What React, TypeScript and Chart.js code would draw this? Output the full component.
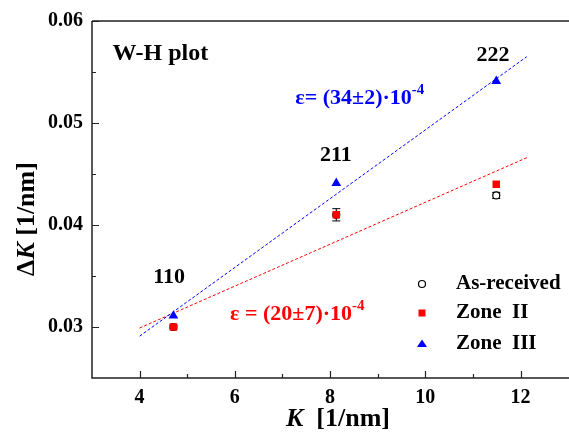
import { useEffect, useRef } from "react";
import { Chart, registerables } from "chart.js";

Chart.register(...registerables);

// ---- data ----
const K_VALUES = [4.71, 8.13, 11.49];
const AS_RECEIVED = [0.03, 0.041, 0.0429];
const AS_RECEIVED_ERR = [0.0002, 0.0006, 0.0003];
const ZONE_II = [0.03, 0.041, 0.044];
const ZONE_III = [0.0311, 0.0441, 0.0541];
const REFLECTIONS = ["110", "211", "222"];
const REFLECTION_K = [4.62, 8.12, 11.42];
const REFLECTION_DK = [0.0349, 0.0468, 0.0566];
const FIT_K = [4, 12.13];
const FIT_ZONE_III = [0.0291, 0.0565];
const FIT_ZONE_II = [0.0299, 0.0466];
const X_TICKS = [4, 6, 8, 10, 12];
const X_MINOR = [5, 7, 9, 11];
const Y_TICKS = [0.03, 0.04, 0.05, 0.06];
const Y_MINOR = [0.035, 0.045, 0.055];
const LEGEND_LABELS = ["As-received", "Zone  II", "Zone  III"];

const SERIF = "'Liberation Serif', 'Times New Roman', serif";
const BLUE = "#0000ff";
const RED = "#ff0000";

function drawRich(
  ctx: CanvasRenderingContext2D,
  parts: { t: string; font: string; dy?: number }[],
  x: number,
  y: number,
  color: string
) {
  let cx = x;
  ctx.fillStyle = color;
  ctx.textAlign = "left";
  ctx.textBaseline = "alphabetic";
  for (const p of parts) {
    ctx.font = p.font;
    ctx.fillText(p.t, cx, y + (p.dy || 0));
    cx += ctx.measureText(p.t).width;
  }
}

const decorPlugin = {
  id: "decor",
  beforeDatasetsDraw(chart: any) {
    const { ctx, scales } = chart;
    const xs = scales.x;
    const ys = scales.y;
    ctx.save();
    ctx.strokeStyle = "#000";
    ctx.lineWidth = 1;
    K_VALUES.forEach((k, i) => {
      const px = xs.getPixelForValue(k);
      const top = ys.getPixelForValue(AS_RECEIVED[i] + AS_RECEIVED_ERR[i]);
      const bot = ys.getPixelForValue(AS_RECEIVED[i] - AS_RECEIVED_ERR[i]);
      ctx.beginPath();
      ctx.moveTo(px, top);
      ctx.lineTo(px, bot);
      ctx.moveTo(px - 4, top);
      ctx.lineTo(px + 4, top);
      ctx.moveTo(px - 4, bot);
      ctx.lineTo(px + 4, bot);
      ctx.stroke();
    });
    ctx.restore();
  },
  afterDraw(chart: any) {
    const { ctx, chartArea, scales } = chart;
    const xs = scales.x;
    const ys = scales.y;
    const { left, top, bottom } = chartArea;
    ctx.save();
    // axes
    ctx.strokeStyle = "#222";
    ctx.lineWidth = 1.5;
    ctx.beginPath();
    ctx.moveTo(left, top);
    ctx.lineTo(chart.width, top);
    ctx.moveTo(left, top);
    ctx.lineTo(left, bottom);
    ctx.lineTo(chart.width, bottom);
    ctx.stroke();
    ctx.lineWidth = 1.2;
    ctx.beginPath();
    X_TICKS.forEach((v) => {
      const p = Math.round(xs.getPixelForValue(v)) + 0.5;
      ctx.moveTo(p, bottom);
      ctx.lineTo(p, bottom - 7);
    });
    X_MINOR.forEach((v) => {
      const p = Math.round(xs.getPixelForValue(v)) + 0.5;
      ctx.moveTo(p, bottom);
      ctx.lineTo(p, bottom - 4);
    });
    Y_TICKS.forEach((v) => {
      const p = Math.round(ys.getPixelForValue(v)) + 0.5;
      ctx.moveTo(left, p);
      ctx.lineTo(left + 7, p);
    });
    Y_MINOR.forEach((v) => {
      const p = Math.round(ys.getPixelForValue(v)) + 0.5;
      ctx.moveTo(left, p);
      ctx.lineTo(left + 4, p);
    });
    ctx.stroke();

    // axis titles
    const bold26 = `bold 26px ${SERIF}`;
    const boldIt26 = `italic bold 26px ${SERIF}`;
    ctx.font = boldIt26;
    const kW = ctx.measureText("K").width;
    ctx.font = bold26;
    const restW = ctx.measureText("  [1/nm]").width;
    const xTitleW = kW + restW;
    const xCenter = 338;
    drawRich(
      ctx,
      [
        { t: "K", font: boldIt26 },
        { t: "  [1/nm]", font: bold26 },
      ],
      xCenter - xTitleW / 2,
      426,
      "#000"
    );
    ctx.save();
    ctx.translate(34, 219);
    ctx.rotate(-Math.PI / 2);
    ctx.font = bold26;
    const dW = ctx.measureText("Δ").width;
    const rW = ctx.measureText(" [1/nm]").width;
    const yTitleW = dW + kW + rW;
    drawRich(
      ctx,
      [
        { t: "Δ", font: bold26 },
        { t: "K", font: boldIt26 },
        { t: " [1/nm]", font: bold26 },
      ],
      -yTitleW / 2,
      0,
      "#000"
    );
    ctx.restore();

    // plot label
    ctx.fillStyle = "#000";
    ctx.font = `bold 24px ${SERIF}`;
    ctx.textAlign = "left";
    ctx.textBaseline = "alphabetic";
    ctx.fillText("W-H plot", xs.getPixelForValue(3.43), ys.getPixelForValue(0.0562));

    // reflection labels
    ctx.font = `bold 22px ${SERIF}`;
    ctx.textAlign = "center";
    ctx.textBaseline = "middle";
    REFLECTIONS.forEach((r, i) => {
      ctx.fillText(r, xs.getPixelForValue(REFLECTION_K[i]), ys.getPixelForValue(REFLECTION_DK[i]));
    });

    // strain labels
    const b22 = `bold 22px ${SERIF}`;
    const b15 = `bold 15px ${SERIF}`;
    drawRich(
      ctx,
      [
        { t: "ε= (34±2)·10", font: b22 },
        { t: "-4", font: b15, dy: -10 },
      ],
      xs.getPixelForValue(7.27),
      ys.getPixelForValue(0.0519),
      BLUE
    );
    drawRich(
      ctx,
      [
        { t: "ε = (20±7)·10", font: b22 },
        { t: "-4", font: b15, dy: -10 },
      ],
      xs.getPixelForValue(5.9),
      ys.getPixelForValue(0.0307),
      RED
    );

    // legend
    const lx = left + 330;
    const rows = [284, 313, 344];
    ctx.font = `bold 21px ${SERIF}`;
    ctx.textAlign = "left";
    ctx.textBaseline = "middle";
    rows.forEach((ry, i) => {
      ctx.fillStyle = "#000";
      ctx.fillText(LEGEND_LABELS[i], lx + 34, ry);
      if (i === 0) {
        ctx.beginPath();
        ctx.arc(lx, ry, 3.5, 0, Math.PI * 2);
        ctx.fillStyle = "#fff";
        ctx.fill();
        ctx.strokeStyle = "#000";
        ctx.lineWidth = 1.2;
        ctx.stroke();
      } else if (i === 1) {
        ctx.fillStyle = RED;
        ctx.fillRect(lx - 3.5, ry - 3.5, 7, 7);
      } else {
        ctx.fillStyle = BLUE;
        ctx.beginPath();
        ctx.moveTo(lx, ry - 4.5);
        ctx.lineTo(lx + 5, ry + 3);
        ctx.lineTo(lx - 5, ry + 3);
        ctx.closePath();
        ctx.fill();
      }
    });
    ctx.restore();
  },
};

export default function App() {
  const ref = useRef<HTMLCanvasElement | null>(null);
  useEffect(() => {
    document.body.style.margin = "0";
    const canvas = ref.current;
    if (!canvas) return;
    const pts = (ys: number[]) => K_VALUES.map((k, i) => ({ x: k, y: ys[i] }));
    const fit = (ys: number[]) => FIT_K.map((k, i) => ({ x: k, y: ys[i] }));
    const chart = new Chart(canvas, {
      type: "scatter",
      data: {
        datasets: [
          {
            label: "Zone III fit",
            data: fit(FIT_ZONE_III),
            showLine: true,
            borderColor: BLUE,
            borderWidth: 1,
            borderDash: [3, 2],
            pointRadius: 0,
            order: 10,
          },
          {
            label: "Zone II fit",
            data: fit(FIT_ZONE_II),
            showLine: true,
            borderColor: RED,
            borderWidth: 1,
            borderDash: [3, 2],
            pointRadius: 0,
            order: 11,
          },
          {
            label: "As-received",
            data: pts(AS_RECEIVED),
            pointStyle: "circle",
            pointRadius: 3.5,
            backgroundColor: "#fff",
            borderColor: "#000",
            borderWidth: 1.2,
            order: 3,
          },
          {
            label: "Zone II",
            data: pts(ZONE_II),
            pointStyle: "rect",
            pointRadius: 5.3,
            backgroundColor: RED,
            borderColor: RED,
            borderWidth: 0,
            order: 2,
          },
          {
            label: "Zone III",
            data: pts(ZONE_III),
            pointStyle: "triangle",
            pointRadius: 5.6,
            backgroundColor: BLUE,
            borderColor: BLUE,
            borderWidth: 0,
            order: 1,
          },
        ],
      },
      options: {
        responsive: false,
        animation: false,
        devicePixelRatio: 1,
        layout: { padding: { top: 19, left: 0, right: 0, bottom: 0 } },
        plugins: { legend: { display: false }, tooltip: { enabled: false } },
        scales: {
          x: {
            type: "linear",
            min: 3,
            max: 12.9,
            grid: { display: false, drawTicks: false },
            border: { display: false },
            afterBuildTicks: (s: any) => {
              s.ticks = X_TICKS.map((v) => ({ value: v }));
            },
            afterFit: (s: any) => {
              s.height = 65;
            },
            ticks: {
              padding: 8,
              color: "#000",
              font: { family: SERIF, size: 20, weight: "bold" },
              callback: (v: any) => String(v),
              maxRotation: 0,
            },
          },
          y: {
            type: "linear",
            min: 0.025,
            max: 0.06,
            grid: { display: false, drawTicks: false },
            border: { display: false },
            afterBuildTicks: (s: any) => {
              s.ticks = Y_TICKS.map((v) => ({ value: v }));
            },
            afterFit: (s: any) => {
              s.width = 92;
            },
            ticks: {
              padding: 9,
              color: "#000",
              font: { family: SERIF, size: 20, weight: "bold" },
              callback: (v: any) => Number(v).toFixed(2),
            },
          },
        },
      },
      plugins: [decorPlugin],
    });
    return () => chart.destroy();
  }, []);
  return (
    <div style={{ width: 569, height: 443 }}>
      <canvas ref={ref} width={569} height={443} />
    </div>
  );
}
